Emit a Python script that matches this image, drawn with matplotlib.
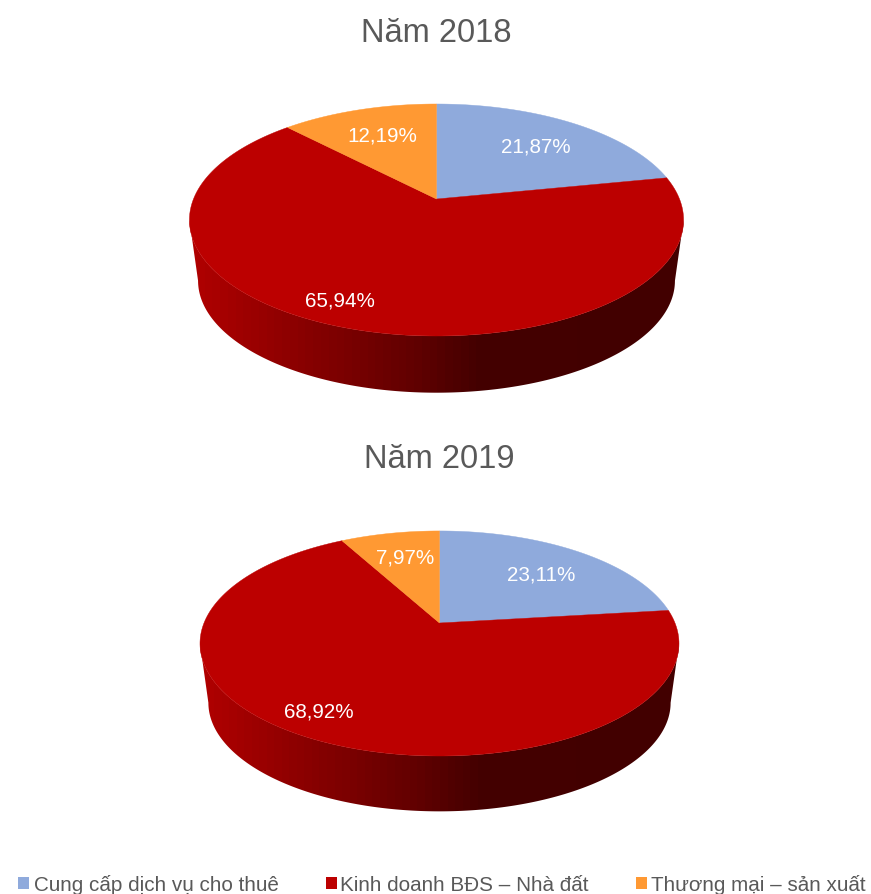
import numpy as np
import matplotlib
matplotlib.use("Agg")
import matplotlib.pyplot as plt
from matplotlib.patches import Polygon, Rectangle
from matplotlib.colors import LinearSegmentedColormap

plt.rcParams['font.family'] = ['Liberation Sans', 'DejaVu Sans']

categories = ["Cung cấp dịch vụ cho thuê", "Kinh doanh BĐS – Nhà đất", "Thương mại – sản xuất"]
values_2018 = [21.87, 65.94, 12.19]
values_2019 = [23.11, 68.92, 7.97]
labels_2018 = ["21,87%", "65,94%", "12,19%"]
labels_2019 = ["23,11%", "68,92%", "7,97%"]
titles = ["Năm 2018", "Năm 2019"]

top_colors = ["#8FAADC", "#BC0000", "#FF9933"]
TEXT_GREY = "#595959"

# shading along the rim of the red slice, from left to right on screen
rim_shade = LinearSegmentedColormap.from_list(
    "rim",
    [(0.0, "#B00000"), (0.05, "#A80000"), (0.18, "#900000"), (0.315, "#7A0000"),
     (0.465, "#5E0000"), (0.585, "#440000"), (1.0, "#420000")])


def project(theta_deg, g, scale=1.0, drop=0.0):
    """Perspective view of a point on the pie rim; theta runs clockwise from 12 o'clock."""
    t = np.radians(theta_deg)
    x, y = np.sin(t), -np.cos(t)
    w = 1 + g["k"] * y
    return (g["cx"] + scale * g["b"] * x / w,
            g["cy"] + drop + scale * g["a"] * y / w)


def draw_pie(ax, values, labels, title, g):
    edges = np.concatenate([[0], np.cumsum(values)]) * 3.6

    # rim: a banded left-to-right ramp clipped to the wall outline,
    # which runs between the two points where the projected disc is widest
    widest = np.degrees(np.arccos(g["k"]))
    a = np.linspace(widest, 360 - widest, 240)
    upper = np.array(project(a, g)).T
    lower = np.array(project(a, g, g["depth_scale"], g["drop"])).T
    wall = Polygon(np.vstack([upper, lower[::-1]]), closed=True,
                   transform=ax.transData, facecolor="none", edgecolor="none")
    ax.add_patch(wall)
    bands = np.linspace(0, 1, 64).reshape(1, -1)
    image = ax.imshow(bands, cmap=rim_shade, vmin=0, vmax=1, aspect="auto",
                      interpolation="nearest", zorder=2,
                      extent=(g["left"], g["left"] + g["span"],
                              g["cy"] + g["drop"] + 160, g["cy"] - 40))
    image.set_clip_path(wall)

    # top surface
    for i in range(len(values)):
        a = np.linspace(edges[i], edges[i + 1], 200)
        rim = np.array(project(a, g)).T
        pts = np.vstack([[g["cx"], g["cy"]], rim])
        ax.add_patch(Polygon(pts, closed=True, facecolor=top_colors[i],
                             edgecolor=top_colors[i], linewidth=0.3, zorder=3))
        lx, ly = g["label_xy"][i]
        ax.text(lx, ly, labels[i], color="white", fontsize=14.9,
                ha="center", va="center", zorder=4)

    ax.text(g["title_xy"][0], g["title_xy"][1], title, color=TEXT_GREY,
            fontsize=23.5, ha="center", va="center")


fig = plt.figure(figsize=(8.71, 8.95), dpi=100, facecolor="white")
ax = fig.add_axes([0, 0, 1, 1])
ax.axis("off")

geom_2018 = dict(cx=436.5, cy=200, a=112.2, b=243, k=-0.181, depth_scale=0.965, drop=61.5,
                 left=189, span=496, title_xy=(436, 33),
                 label_xy=[(535.5, 147), (339.5, 301), (382, 136)])
geom_2019 = dict(cx=439.5, cy=624, a=108.8, b=235.5, k=-0.182, depth_scale=0.965, drop=60,
                 left=199, span=481, title_xy=(439, 459),
                 label_xy=[(541, 575), (319, 712), (405, 558)])

draw_pie(ax, values_2018, labels_2018, titles[0], geom_2018)
draw_pie(ax, values_2019, labels_2019, titles[1], geom_2019)

# legend row along the bottom edge
swatch_x = [18, 326, 636]
text_x = [34, 340, 651]
for name, color, sx, tx in zip(categories, top_colors, swatch_x, text_x):
    ax.add_patch(Rectangle((sx, 878), 11, 12, facecolor=color, edgecolor="none"))
    ax.text(tx, 891, name, color=TEXT_GREY, fontsize=14.9, ha="left", va="baseline")

ax.set_xlim(0, 871)
ax.set_ylim(895, 0)

fig.savefig("out.png", dpi=100)
